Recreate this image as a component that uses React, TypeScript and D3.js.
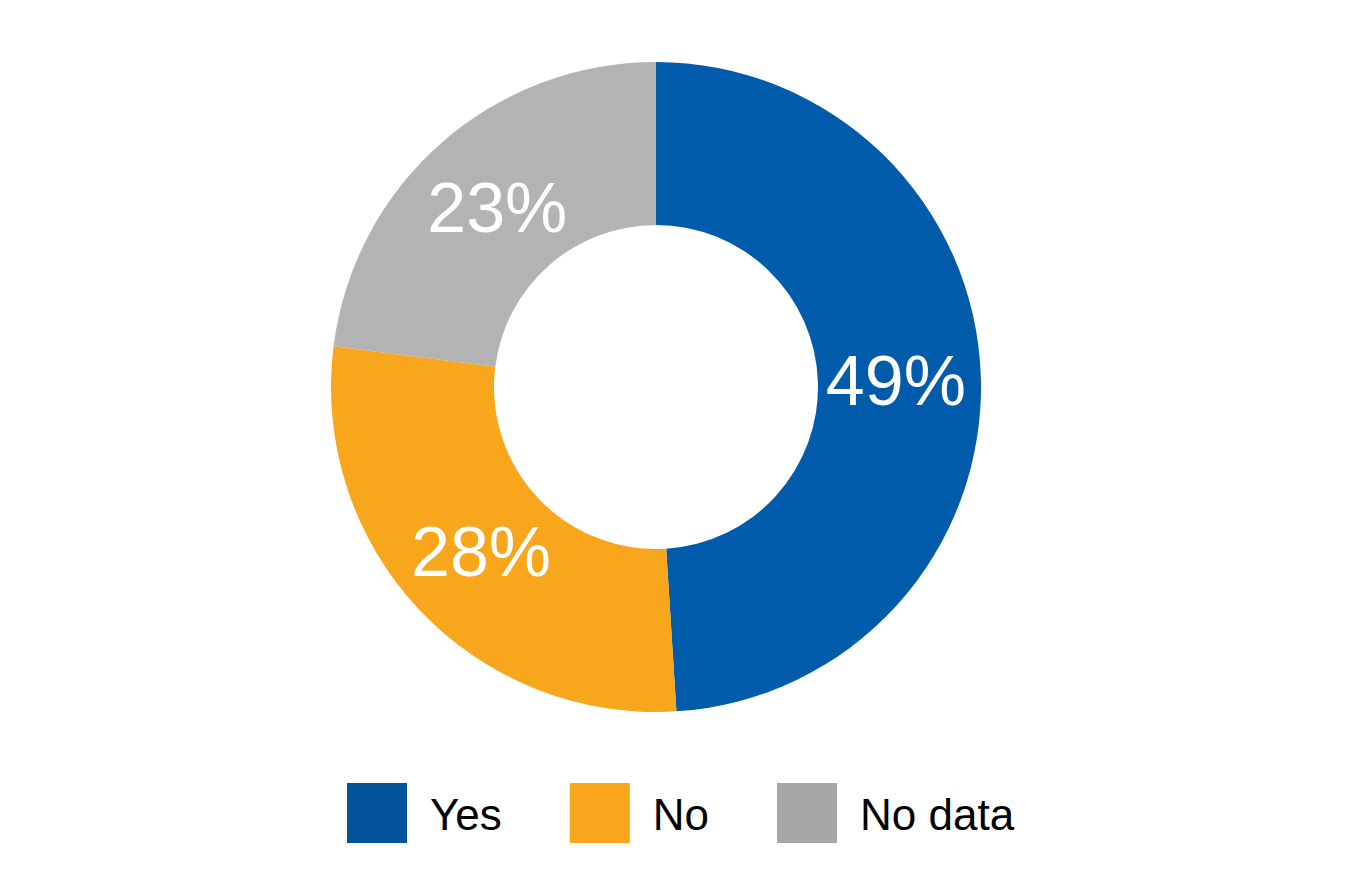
import { useRef, useEffect } from 'react';
import * as d3 from 'd3';

const categories = ['Yes', 'No', 'No data'];
const values = [49, 28, 23];
const sliceColors = ['#005cab', '#f8a61b', '#b3b3b3'];
const legendColors = ['#03529c', '#f9a61d', '#a6a6a6'];

export default function App() {
  const svgRef = useRef<SVGSVGElement>(null);

  useEffect(() => {
    const w = 1363;
    const h = 885;
    const cx = 656;
    const cy = 387;
    const outer = 325;
    const inner = 162;

    const svg = d3.select(svgRef.current)
      .attr('width', w)
      .attr('height', h)
      .style('background', '#fff');
    svg.selectAll('*').remove();

    const pie = d3.pie<number>().sort(null).value(d => d);
    const arcs = pie(values);
    const arc = d3.arc<d3.PieArcDatum<number>>()
      .innerRadius(inner)
      .outerRadius(outer);
    const labelArc = d3.arc<d3.PieArcDatum<number>>()
      .innerRadius(240)
      .outerRadius(240);

    const g = svg.append('g').attr('transform', `translate(${cx},${cy})`);

    g.selectAll('path')
      .data(arcs)
      .join('path')
      .attr('d', arc)
      .attr('fill', (d, i) => sliceColors[i]);

    g.selectAll('text')
      .data(arcs)
      .join('text')
      .attr('transform', d => `translate(${labelArc.centroid(d)})`)
      .attr('text-anchor', 'middle')
      .attr('dy', '0.36em')
      .attr('fill', '#fff')
      .style('font-family', '"Liberation Sans", Arial, sans-serif')
      .style('font-size', '70px')
      .text(d => `${d.data}%`);

    // legend, laid out from measured label widths
    const legend = svg.append('g').attr('transform', 'translate(347,783)');
    let x = 0;
    categories.forEach((c, i) => {
      const item = legend.append('g').attr('transform', `translate(${x},0)`);
      item.append('rect')
        .attr('width', 60)
        .attr('height', 60)
        .attr('fill', legendColors[i]);
      const t = item.append('text')
        .attr('x', 83)
        .attr('y', 47)
        .attr('fill', '#000')
        .style('font-family', '"Liberation Sans Narrow", "Arial Narrow", sans-serif')
        .style('font-size', '44px')
        .text(c);
      const tw = (t.node() as SVGTextElement).getComputedTextLength();
      x += 83 + tw + 68;
    });
  }, []);

  return (
    <svg ref={svgRef} style={{ position: 'absolute', left: 0, top: 0 }}></svg>
  );
}
